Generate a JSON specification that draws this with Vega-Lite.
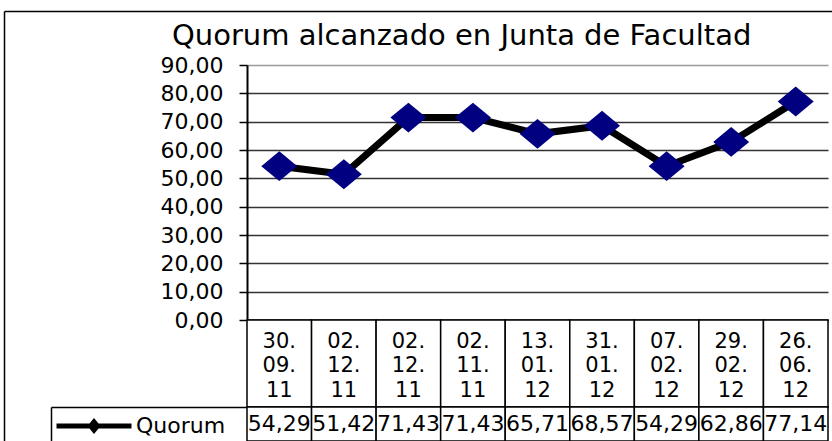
{
  "$schema": "https://vega.github.io/schema/vega-lite/v6.json",
  "padding": {"left": 4, "top": 11, "right": 0, "bottom": 0},
  "autosize": {"type": "pad"},
  "background": "white",
  "data": {"values": [
    {"n": 1, "fecha": "30.\n09.\n11", "valor": 54.29},
    {"n": 2, "fecha": "02.\n12.\n11", "valor": 51.42},
    {"n": 3, "fecha": "02.\n12.\n11", "valor": 71.43},
    {"n": 4, "fecha": "02.\n11.\n11", "valor": 71.43},
    {"n": 5, "fecha": "13.\n01.\n12", "valor": 65.71},
    {"n": 6, "fecha": "31.\n01.\n12", "valor": 68.57},
    {"n": 7, "fecha": "07.\n02.\n12", "valor": 54.29},
    {"n": 8, "fecha": "29.\n02.\n12", "valor": 62.86},
    {"n": 9, "fecha": "26.\n06.\n12", "valor": 77.14}
  ]},
  "title": {
    "text": "Quorum alcanzado en  Junta de Facultad",
    "font": "DejaVu Sans", "fontSize": 29, "fontWeight": "normal", "color": "black",
    "anchor": "start", "frame": "group", "dx": -75, "offset": -40
  },
  "bounds": "flush",
  "spacing": 0,
  "config": {
    "locale": {"number": {"decimal": ",", "thousands": ".", "grouping": [3], "currency": ["", " €"]}},
    "view": {"stroke": null},
    "font": "DejaVu Sans",
    "axisY": {"labelOverlap": false}
  },
  "vconcat": [
    {
      "width": 581, "height": 255,
      "layer": [
        {
          "layer": [
            {
              "mark": {"type": "line", "strokeWidth": 7},
              "encoding": {
                "x": {"field": "n", "type": "ordinal", "scale": {"paddingInner": 0, "paddingOuter": 0},
                      "axis": {"labels": false, "ticks": false, "domain": true, "domainColor": "black", "domainWidth": 2, "grid": false, "title": null}},
                "y": {"field": "valor", "type": "quantitative", "scale": {"domain": [0, 90], "nice": false},
                      "axis": {"values": [0, 10, 20, 30, 40, 50, 60, 70, 80, 90], "labelOverlap": false, "format": ".2f", "title": null,
                               "domainColor": "black", "domainWidth": 2, "tickColor": "black", "tickWidth": 1.5, "tickSize": 8,
                               "labelFont": "DejaVu Sans", "labelFontSize": 22, "labelColor": "black", "labelPadding": 16, "labelBound": false, "labelFlush": false,
                               "grid": true, "gridColor": {"condition": {"test": "datum.value === 90", "value": "#9a9a9a"}, "value": "#333333"}, "gridWidth": 1.5}},
                "color": {"datum": "Quorum", "type": "nominal", "scale": {"range": ["black"]},
                          "legend": {
                            "orient": "none", "legendX": -199, "legendY": 315, "title": null, "padding": 6,
                            "symbolType": "M-1,0H1M-0.09,0L0,-0.11L0.09,0L0,0.11Z",
                            "symbolSize": 5625, "symbolStrokeWidth": 5, "symbolStrokeColor": "black",
                            "labelOffset": 2,
                            "labelFont": "DejaVu Sans", "labelFontSize": 22, "labelColor": "black"
                          }}
              }
            },
            {
              "mark": {"type": "point", "shape": "M-1,0L0,-0.83L1,0L0,0.83Z", "size": 1296, "filled": true, "fill": "#000080", "opacity": 1, "strokeWidth": 0},
              "encoding": {
                "x": {"field": "n", "type": "ordinal"},
                "y": {"field": "valor", "type": "quantitative",
                      "axis": {"values": [0, 10, 20, 30, 40, 50, 60, 70, 80, 90], "labelOverlap": false, "format": ".2f", "title": null,
                               "domainColor": "black", "domainWidth": 2, "tickColor": "black", "tickWidth": 1.5, "tickSize": 8,
                               "labelFont": "DejaVu Sans", "labelFontSize": 22, "labelColor": "black", "labelPadding": 16, "labelBound": false, "labelFlush": false,
                               "grid": true, "gridColor": {"condition": {"test": "datum.value === 90", "value": "#9a9a9a"}, "value": "#333333"}, "gridWidth": 1.5}}
              }
            }
          ]
        },
        {
          "mark": {"type": "point", "opacity": 0},
          "encoding": {
            "x": {"field": "valor", "type": "quantitative", "scale": {"domain": [0, 100], "range": [-243, 590]},
                  "axis": {"orient": "top", "offset": 54, "labels": false, "ticks": false, "grid": false, "title": null, "domainColor": "black", "domainWidth": 1.5}},
            "y": {"field": "valor", "type": "quantitative", "scale": {"domain": [0, 100], "range": [380, -54]},
                  "axis": {"orient": "left", "offset": 243, "labels": false, "ticks": false, "grid": false, "title": null, "domainColor": "black", "domainWidth": 1.5}}
          }
        }
      ],
      "resolve": {"scale": {"x": "independent", "y": "independent"}, "axis": {"x": "independent", "y": "independent"}}
    },
    {
      "width": 581, "height": 87,
      "layer": [
        {"mark": {"type": "rect", "fill": "white", "stroke": "black", "strokeWidth": 1.5},
         "encoding": {"x": {"field": "n", "type": "ordinal", "scale": {"paddingInner": 0, "paddingOuter": 0}, "axis": null}}},
        {"mark": {"type": "text", "font": "DejaVu Sans", "fontSize": 21, "lineHeight": 24.5, "lineBreak": "\n", "color": "black", "baseline": "middle", "align": "center", "dy": -22},
         "encoding": {"x": {"field": "n", "type": "ordinal", "axis": null}, "text": {"field": "fecha", "type": "nominal"}}}
      ]
    },
    {
      "width": 581, "height": 34,
      "layer": [
        {
          "layer": [
            {"mark": {"type": "rect", "fill": "white", "stroke": "black", "strokeWidth": 1.5},
             "encoding": {"x": {"field": "n", "type": "ordinal", "scale": {"paddingInner": 0, "paddingOuter": 0}, "axis": null}}},
            {"mark": {"type": "text", "font": "DejaVu Sans", "fontSize": 22, "color": "black", "baseline": "middle", "align": "center"},
             "encoding": {"x": {"field": "n", "type": "ordinal", "axis": null}, "text": {"field": "valor", "type": "quantitative", "format": ".2f"}}}
          ]
        },
        {
          "mark": {"type": "point", "opacity": 0},
          "encoding": {
            "x": {"field": "valor", "type": "quantitative", "scale": {"domain": [0, 100], "range": [-196, 581]},
                  "axis": {"orient": "top", "offset": 0, "labels": false, "ticks": false, "grid": false, "title": null, "domainColor": "black", "domainWidth": 1.5}},
            "y": {"field": "valor", "type": "quantitative", "scale": {"domain": [0, 100], "range": [40, 0]},
                  "axis": {"orient": "left", "offset": 196, "labels": false, "ticks": false, "grid": false, "title": null, "domainColor": "black", "domainWidth": 1.5}}
          }
        }
      ],
      "resolve": {"scale": {"x": "independent", "y": "independent"}, "axis": {"x": "independent", "y": "independent"}}
    }
  ]
}
